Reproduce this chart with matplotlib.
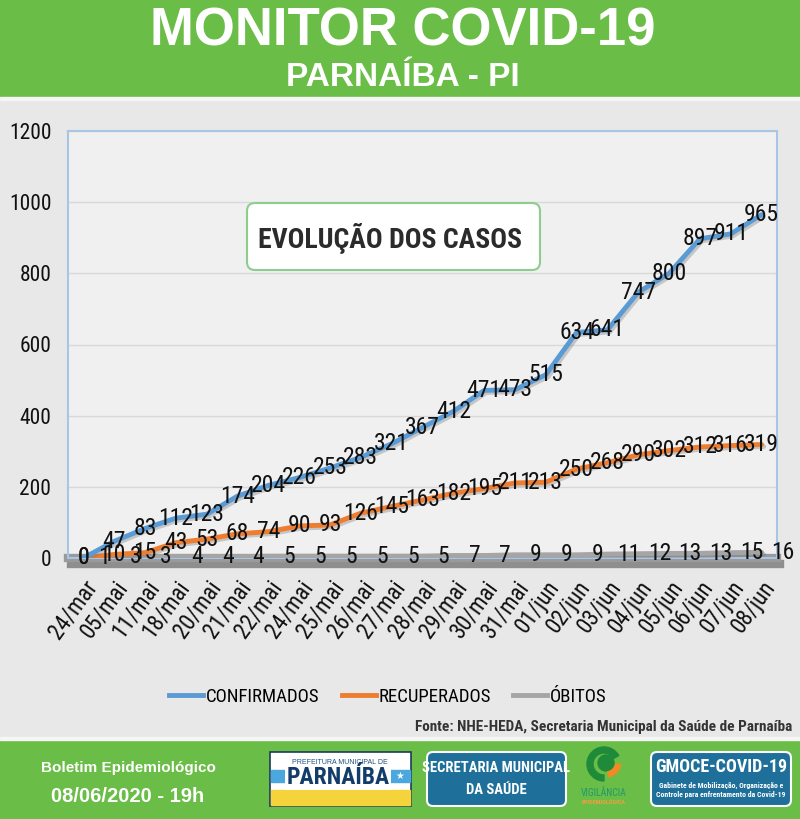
import os
import matplotlib
matplotlib.use("Agg")
import matplotlib.pyplot as plt
import matplotlib.patheffects as pe
from matplotlib.patches import FancyBboxPatch, Rectangle, Circle, Wedge
from matplotlib.lines import Line2D
from matplotlib.transforms import Affine2D
from matplotlib.font_manager import FontProperties
from matplotlib import font_manager

# Dados do boletim
datas = ["24/mar", "05/mai", "11/mai", "18/mai", "20/mai", "21/mai", "22/mai", "24/mai",
         "25/mai", "26/mai", "27/mai", "28/mai", "29/mai", "30/mai", "31/mai", "01/jun",
         "02/jun", "03/jun", "04/jun", "05/jun", "06/jun", "07/jun", "08/jun"]
confirmados = [0, 47, 83, 112, 123, 174, 204, 226, 253, 283, 321, 367, 412, 471, 473, 515,
               634, 641, 747, 800, 897, 911, 965]
recuperados = [0, 10, 15, 43, 53, 68, 74, 90, 93, 126, 145, 163, 182, 195, 211, 213,
               250, 268, 290, 302, 312, 316, 319]
obitos = [1, 3, 3, 4, 4, 4, 5, 5, 5, 5, 5, 5, 7, 7, 9, 9, 9, 11, 12, 13, 13, 15, 16]
yticks = [0, 200, 400, 600, 800, 1000, 1200]
series = ["CONFIRMADOS", "RECUPERADOS", "ÓBITOS"]

# fontes: tenta achar uma fonte estreita instalada
arquivos = list(font_manager.findSystemFonts()) + [f.fname for f in font_manager.fontManager.ttflist]
nomes = {f.name for f in font_manager.fontManager.ttflist}


def procura(opcoes):
    base = {os.path.basename(a).lower(): a for a in arquivos}
    for o in opcoes:
        if o.lower() in base:
            return base[o.lower()]
    return None


REG = procura(["LiberationSansNarrow-Regular.ttf", "RobotoCondensed-Regular.ttf",
               "DejaVuSansCondensed.ttf", "NotoSans-Condensed.ttf", "OpenSans-CondensedRegular.ttf"])
BOLD = procura(["LiberationSansNarrow-Bold.ttf", "RobotoCondensed-Bold.ttf",
                "DejaVuSansCondensed-Bold.ttf", "NotoSans-CondensedBold.ttf", "OpenSans-CondensedBold.ttf"])
SANS = "Liberation Sans" if "Liberation Sans" in nomes else "DejaVu Sans"
K = 1.0 if REG else 0.84


def fp(size, bold=False):
    path = BOLD if bold else REG
    if path:
        return FontProperties(fname=path, size=size)
    return FontProperties(family=SANS, weight="bold" if bold else "normal", size=size * K)


VERDE = "#6abd46"
AZUL = "#5b9bd5"
LARANJA = "#ed7d31"
CINZA = "#a5a5a5"

W, H = 800, 819
fig = plt.figure(figsize=(W / 100, H / 100), dpi=100)
fig.patch.set_facecolor("#e8e8e8")

# transformacao em pixels (origem no canto superior esquerdo)
pix = Affine2D().scale(1 / W, -1 / H).translate(0, 1) + fig.transFigure

# cabecalho
fig.add_artist(Rectangle((0, 0), W, 97, transform=pix, color=VERDE, zorder=0))
fig.add_artist(Rectangle((0, 97), W, 3, transform=pix, color="#f6f6f6", zorder=0))
fig.text(403, 31, "MONITOR COVID-19", transform=pix, ha="center", va="center",
         color="white", fontsize=38, fontweight="bold", family=SANS)
fig.text(403, 78, "PARNAÍBA - PI", transform=pix, ha="center", va="center",
         color="white", fontsize=24, fontweight="bold", family=SANS)

# grafico
ax = fig.add_axes([68 / W, 1 - 558 / H, (777 - 68) / W, (558 - 131) / H])
ax.set_facecolor("#f0f0f0")
x = list(range(len(datas)))

sombra = [pe.SimpleLineShadow(offset=(1.5, -1.5), shadow_color="#777777", alpha=0.35), pe.Normal()]
ax.axhline(0, color="#9a9a9a", lw=6, zorder=2, clip_on=False,
           path_effects=[pe.SimpleLineShadow(offset=(2, -4), shadow_color="#444444", alpha=0.55), pe.Normal()])
ax.plot(x, obitos, color=CINZA, lw=3.5, zorder=3, path_effects=sombra, solid_capstyle="round")
ax.plot(x, recuperados, color=LARANJA, lw=3.5, zorder=4, path_effects=sombra, solid_capstyle="round")
ax.plot(x, confirmados, color=AZUL, lw=3.5, zorder=5, path_effects=sombra, solid_capstyle="round")

fonte_rot = fp(17)
for i, v in enumerate(confirmados):
    ax.annotate(str(v), (i, v), ha="center", va="center", fontproperties=fonte_rot,
                color="#111111", zorder=6)
for i, v in enumerate(recuperados):
    ax.annotate(str(v), (i, v), ha="center", va="center", fontproperties=fonte_rot,
                color="#111111", zorder=6)
for i, v in enumerate(obitos):
    ax.annotate(str(v), (i, v), xytext=(21, 0), textcoords="offset pixels",
                ha="center", va="center", annotation_clip=False, fontproperties=fonte_rot,
                color="#111111", zorder=6)

ax.set_xlim(-0.5, len(datas) - 0.5)
ax.set_ylim(0, 1200)
ax.set_yticks(yticks)
ax.set_yticklabels([str(t) for t in yticks], fontproperties=fp(15.5), color="#111111")
ax.set_xticks(x)
ax.set_xticklabels(datas, rotation=54, ha="right", rotation_mode="anchor",
                   fontproperties=fp(16.5), color="#111111")
ax.tick_params(length=0)
ax.tick_params(axis="y", pad=12)
ax.tick_params(axis="x", pad=13)
ax.grid(axis="y", color="#d8d8d8", lw=1)
ax.set_axisbelow(True)
for lado in ["top", "bottom", "left", "right"]:
    ax.spines[lado].set_color("#a8c6e4")
    ax.spines[lado].set_linewidth(1.5)

# caixa do titulo interno
fig.add_artist(FancyBboxPatch((247, 203), 293, 67, transform=pix,
                              boxstyle="round,pad=0,rounding_size=8",
                              fc="white", ec="#8fcc8f", lw=1.5, zorder=7))
fig.text(390, 238, "EVOLUÇÃO DOS CASOS", transform=pix, ha="center", va="center",
         fontproperties=fp(20, bold=True), color="#2b2b2b", zorder=8)

# legenda
handles = [Line2D([], [], color=c, lw=3.5) for c in (AZUL, LARANJA, CINZA)]
fig.legend(handles, series, ncol=3, frameon=False,
           loc="center", bbox_to_anchor=(388 / W, 1 - 697 / H), handlelength=1.8,
           columnspacing=1.2, handletextpad=0.15, prop=fp(13.5))

fig.text(792, 727, "Fonte: NHE-HEDA, Secretaria Municipal da Saúde de Parnaíba", transform=pix,
         ha="right", va="center", fontproperties=fp(11, bold=True), color="#333333")

# rodape
fig.add_artist(Rectangle((0, 740), W, 79, transform=pix, color=VERDE, zorder=0))
fig.add_artist(Rectangle((0, 737), W, 3, transform=pix, color="#f6f6f6", zorder=0))
fig.text(128, 768, "Boletim Epidemiológico", transform=pix, ha="center", va="center",
         color="white", fontsize=11, fontweight="bold", family=SANS)
fig.text(128, 796, "08/06/2020 - 19h", transform=pix, ha="center", va="center",
         color="white", fontsize=14.5, fontweight="bold", family=SANS)

# logo prefeitura
fig.add_artist(Rectangle((270, 752), 141, 54, transform=pix, fc="white", ec="#1d3b5e", lw=1.2))
fig.add_artist(Rectangle((271, 790), 139, 15, transform=pix, color="#f5d33a"))
fig.add_artist(Rectangle((271, 770), 139, 12, transform=pix, color="#4aa8de"))
fig.text(340, 763, "PREFEITURA MUNICIPAL DE", transform=pix, ha="center", va="center",
         fontsize=5, family=SANS, color="#1f4f80")
fig.text(338, 777, "PARNAÍBA", transform=pix, ha="center", va="center",
         fontproperties=fp(17, bold=True), color="#123d6a",
         bbox=dict(boxstyle="square,pad=0.05", fc="white", ec="none"))
fig.text(400, 776, "★", transform=pix, ha="center", va="center", fontsize=7, color="white",
         family="DejaVu Sans")

# logo secretaria
fig.add_artist(FancyBboxPatch((427, 752), 139, 54, transform=pix,
                              boxstyle="round,pad=0,rounding_size=6",
                              fc="#1e6f9a", ec="white", lw=1.5))
fig.text(496, 768, "SECRETARIA MUNICIPAL", transform=pix, ha="center", va="center",
         fontproperties=fp(10.5, bold=True), color="white")
fig.text(496, 790, "DA SAÚDE", transform=pix, ha="center", va="center",
         fontproperties=fp(10.5, bold=True), color="white")

# logo vigilancia
fig.add_artist(Wedge((604, 764), 17, 90, 330, width=6, transform=pix, color="#1f8a3a"))
fig.add_artist(Circle((606, 763), 8, transform=pix, color="#1f8a3a"))
fig.add_artist(Wedge((606, 762), 15, 10, 80, width=5, transform=pix, color="#f08a24"))
fig.text(604, 793, "VIGILÂNCIA", transform=pix, ha="center", va="center",
         fontproperties=fp(7), color="#1d9a6c")
fig.text(604, 802, "EPIDEMIOLÓGICA", transform=pix, ha="center", va="center",
         fontproperties=fp(4.5, bold=True), color="#f0a040")

# logo gmoce
fig.add_artist(FancyBboxPatch((651, 752), 140, 54, transform=pix,
                              boxstyle="round,pad=0,rounding_size=6",
                              fc="#1e6f9a", ec="white", lw=1.5))
fig.text(721, 767, "GMOCE-COVID-19", transform=pix, ha="center", va="center",
         fontproperties=fp(13, bold=True), color="white")
fig.text(721, 785, "Gabinete de Mobilização, Organização e", transform=pix, ha="center",
         va="center", fontproperties=fp(5.6, bold=True), color="white")
fig.text(721, 795, "Controle para enfrentamento da Covid-19", transform=pix, ha="center",
         va="center", fontproperties=fp(5.6, bold=True), color="white")

fig.savefig("out.png", dpi=100, facecolor=fig.get_facecolor())
